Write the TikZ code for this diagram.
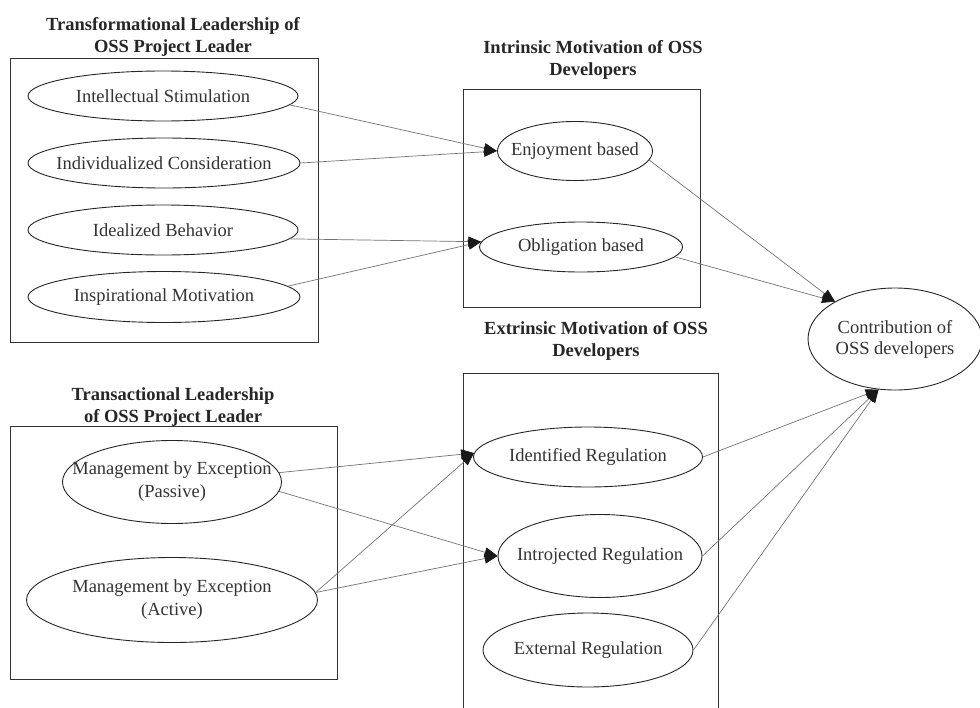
\documentclass[tikz,border=0pt]{standalone}
\usepackage{fontspec}
\setmainfont{Liberation Serif}
\usetikzlibrary{shapes.geometric,arrows.meta}
\begin{document}
\begin{tikzpicture}[x=1pt,y=-1pt,
  oval/.style={ellipse, draw=black!85, line width=0.9pt, inner xsep=-45pt, inner ysep=0pt, align=center, text=black!80, font=\fontsize{18.5}{23}\selectfont},
  grp/.style={draw=black!80, line width=0.9pt},
  ttl/.style={align=center, anchor=north, font=\fontsize{18.5}{22.5}\selectfont\bfseries, text=black!85, inner sep=0pt},
  link/.style={draw=black!55, line width=0.7pt, -{Triangle[length=13pt,width=10pt,fill=black!90,color=black!90]}}
]
\useasboundingbox (0,0) rectangle (980,707);
% group boxes
\draw[grp] (10,58) rectangle (318,342);
\draw[grp] (463,89) rectangle (700,307);
\draw[grp] (463,373) rectangle (718,730);
\draw[grp] (10,426) rectangle (337,679);
% titles
\node[ttl] (t1) at (173,17) {Transformational Leadership of\\OSS Project Leader};
\node[ttl] (t2) at (593,40) {Intrinsic Motivation of OSS\\Developers};
\node[ttl] (t3) at (596,321) {Extrinsic Motivation of OSS\\Developers};
\node[ttl] (t4) at (173,387) {Transactional Leadership\\of OSS Project Leader};
% ellipses
\node[oval, minimum width=270pt, minimum height=50pt] (intel) at (163,96) {Intellectual Stimulation};
\node[oval, minimum width=272pt, minimum height=50pt] (indiv) at (164,163) {Individualized Consideration};
\node[oval, minimum width=270pt, minimum height=50pt] (ideal) at (163,230) {Idealized Behavior};
\node[oval, minimum width=272pt, minimum height=51pt] (insp) at (164,297) {Inspirational Motivation};
\node[oval, minimum width=155pt, minimum height=59pt] (enjoy) at (575,151) {Enjoyment based};
\node[oval, minimum width=203pt, minimum height=50pt] (oblig) at (581,247) {Obligation based};
\node[oval, minimum width=229pt, minimum height=60pt] (ident) at (588,457) {Identified Regulation};
\node[oval, minimum width=204pt, minimum height=83pt] (introj) at (600,556) {Introjected Regulation};
\node[oval, minimum width=210pt, minimum height=74pt] (extern) at (588,650) {External Regulation};
\node[oval, minimum width=219pt, minimum height=83pt] (passive) at (172,482) {Management by Exception\\(Passive)};
\node[oval, minimum width=291pt, minimum height=85pt] (active) at (172,600) {Management by Exception\\(Active)};
\node[oval, minimum width=174pt, minimum height=102pt, font=\fontsize{18.5}{21}\selectfont] (contrib) at (895,339) {Contribution of\\OSS developers};
% connectors
\draw[link] (intel.-4) -- (enjoy.west);
\draw[link] (indiv.east) -- (enjoy.west);
\draw[link] (ideal.-4) -- (oblig.177);
\draw[link] (insp.5) -- (oblig.177);
\draw[link] (enjoy.-7) -- (contrib.148);
\draw[link] (oblig.-6) -- (contrib.148);
\draw[link] (ident.east) -- (contrib.252);
\draw[link] (introj.east) -- (contrib.252);
\draw[link] (extern.east) -- (contrib.252);
\draw[link] (passive.5) -- (ident.178);
\draw[link] (passive.-5) -- (introj.west);
\draw[link] (active.3) -- (ident.178);
\draw[link] (active.3) -- (introj.west);
\end{tikzpicture}
\end{document}
